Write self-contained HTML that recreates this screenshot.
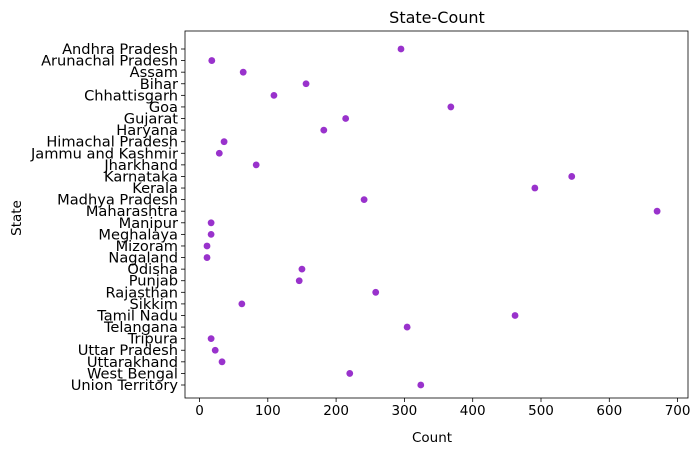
<!DOCTYPE html>
<html><head><meta charset="utf-8"><style>
body{margin:0;background:#fff;font-family:"Liberation Sans","DejaVu Sans",sans-serif;}
svg text{font-family:"DejaVu Sans","Liberation Sans",sans-serif;fill:#000;}
</style></head><body>
<svg id="chart" width="699" height="455" xmlns="http://www.w3.org/2000/svg">
<rect width="699" height="455" fill="#fff"/>
<text x="437" y="23" font-size="16" text-anchor="middle">State-Count</text>
<g id="plot"></g>
<text x="432" y="442" font-size="13.5" text-anchor="middle">Count</text>
<text x="21" y="218" font-size="13.5" text-anchor="middle" transform="rotate(-90 21 218)">State</text>
</svg>
<script>
const states=["Andhra Pradesh","Arunachal Pradesh","Assam","Bihar","Chhattisgarh","Goa","Gujarat","Haryana","Himachal Pradesh","Jammu and Kashmir","Jharkhand","Karnataka","Kerala","Madhya Pradesh","Maharashtra","Manipur","Meghalaya","Mizoram","Nagaland","Odisha","Punjab","Rajasthan","Sikkim","Tamil Nadu","Telangana","Tripura","Uttar Pradesh","Uttarakhand","West Bengal","Union Territory"];
const counts=[295,18,64,156,109,368,214,182,36,29,83,545,491,241,670,17,17,11,11,150,146,258,62,462,304,17,23,33,220,324];
const xTicks=[0,100,200,300,400,500,600,700];
const L=185,R=688,T=31,B=398;
const xs=v=>199.5+v*0.683;
const ys=i=>49+i*(385-49)/(states.length-1);
const g=document.getElementById('plot');
const NS="http://www.w3.org/2000/svg";
function mk(t,a){const e=document.createElementNS(NS,t);for(const k in a)e.setAttribute(k,a[k]);g.appendChild(e);return e;}
const frame=mk('rect',{x:L,y:T,width:R-L,height:B-T,fill:'none',stroke:'#000','stroke-width':0.8});


xTicks.forEach(v=>{
  const t=mk('line',{x1:xs(v),x2:xs(v),y1:B,y2:B+4,stroke:'#000','stroke-width':0.8});
  
  
  const l=mk('text',{x:xs(v),y:B+17,'font-size':13.5,'text-anchor':'middle'});
  l.textContent=v;
  
  
});
states.forEach((s,i)=>{
  const t=mk('line',{x1:L-4,x2:L,y1:ys(i),y2:ys(i),stroke:'#000','stroke-width':0.8});
  
  
  const l=mk('text',{x:L-7,y:ys(i)+5,'font-size':14.6,'text-anchor':'end'});
  l.textContent=s;
  
  
  const c=mk('circle',{cx:xs(counts[i]),cy:ys(i),r:3.4,fill:'#9932CC'});
  
  
});
</script>
</body></html>
